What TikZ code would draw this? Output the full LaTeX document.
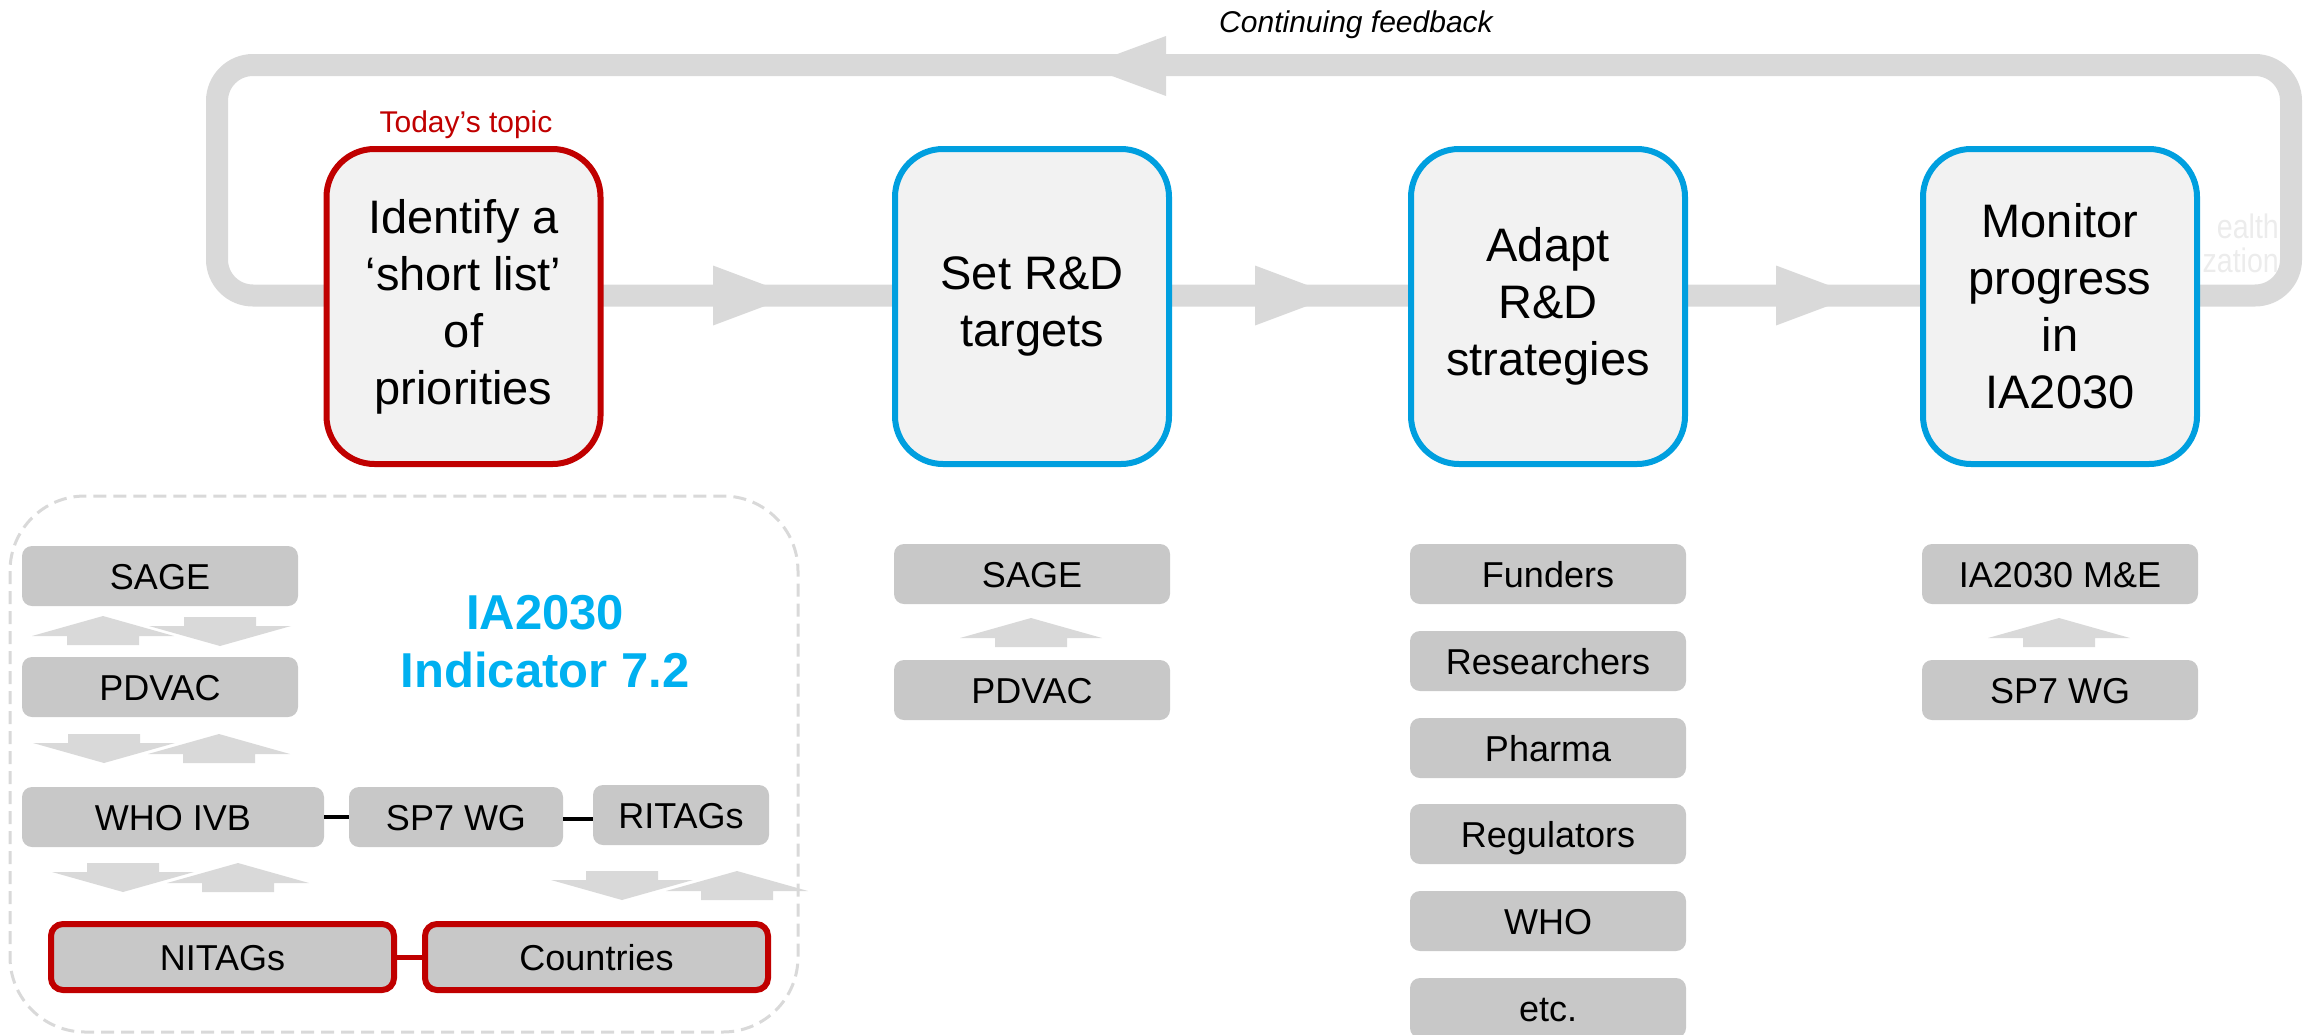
\documentclass[tikz,border=0pt]{standalone}
\usepackage{fontspec}
\setmainfont{Liberation Sans}
\usetikzlibrary{calc}
\definecolor{bandgray}{RGB}{217,217,217}
\definecolor{boxfill}{RGB}{242,242,242}
\definecolor{smallfill}{RGB}{200,200,200}
\definecolor{topicred}{RGB}{192,0,0}
\definecolor{stepblue}{RGB}{0,159,223}
\definecolor{indcyan}{RGB}{0,176,240}
\definecolor{dashgray}{RGB}{217,217,217}
\definecolor{ghost}{RGB}{236,236,236}
\tikzset{
  mainbox/.style={draw, line width=6pt, fill=boxfill, rounded corners=48pt,
    minimum width=274pt, minimum height=315pt, align=center, inner sep=0pt,
    font=\fontsize{47}{57}\selectfont},
  redbox/.style={mainbox, draw=topicred},
  bluebox/.style={mainbox, draw=stepblue},
  smallbox/.style={fill=smallfill, rounded corners=10pt, minimum height=60pt,
    inner sep=0pt, text height=26pt, text depth=0pt,
    font=\fontsize{36}{43}\selectfont},
  redsmall/.style={smallbox, draw=topicred, line width=6pt, minimum height=66pt,
    minimum width=343pt, rounded corners=12pt},
  uparr/.pic={\fill[bandgray] (0,0) -- (71,20) -- (36,20) -- (36,29) -- (-36,29) -- (-36,20) -- (-71,20) -- cycle;},
  downarr/.pic={\fill[bandgray] (0,0) -- (71,-20) -- (36,-20) -- (36,-29) -- (-36,-29) -- (-36,-20) -- (-71,-20) -- cycle;},
  bandhead/.style={fill=bandgray},
  joinline/.style={line width=4pt, black},
  redjoin/.style={line width=5pt, topicred},
  ghosttext/.style={font=\fontsize{34}{34}\selectfont, text=ghost, anchor=base east,
    inner sep=0pt, xscale=0.84}
}
\begin{document}
\begin{tikzpicture}[x=1pt,y=-1pt]
\useasboundingbox (0,0) rectangle (2305,1034);

% feedback loop band
\draw[bandgray, line width=22pt, rounded corners=36pt] (217,65) rectangle (2291,295.5);
% arrowheads on the loop
\fill[bandhead] (713,265.5) -- (793,295.5) -- (713,325.5) -- cycle;
\fill[bandhead] (1255,265.5) -- (1335,295.5) -- (1255,325.5) -- cycle;
\fill[bandhead] (1776,265.5) -- (1856,295.5) -- (1776,325.5) -- cycle;
\fill[bandhead] (1166,36) -- (1085,66) -- (1166,96) -- cycle;

\node[font=\fontsize{30}{36}\selectfont\itshape, anchor=base] (fb) at (1356,32) {Continuing feedback};

% faint leftover text to the right of the last box
\node[ghosttext] (gh1) at (2279,238) {ealth};
\node[ghosttext] (gh2) at (2279,272) {zation};

% main steps
\node[redbox] (s1) at (463.5,306.5) {Identify a\\‘short list’\\of\\priorities};
\node[bluebox] (s2) at (1032,306.5) {Set R\&D\\targets};
\node[bluebox] (s3) at (1548,306.5) {Adapt\\R\&D\\strategies};
\node[bluebox] (s4) at (2060,306.5) {Monitor\\progress\\in\\IA2030};

\node[font=\fontsize{30}{36}\selectfont, text=topicred, anchor=base] (topic) at (466,132) {Today’s topic};

% left panel
\draw[dashgray, line width=3pt, dash pattern=on 13pt off 7pt, rounded corners=75pt] (10,496) rectangle (798,1032);

\node[smallbox, minimum width=276pt] (sageL) at (160,576) {SAGE};
\node[smallbox, minimum width=276pt] (pdvacL) at (160,687) {PDVAC};
\node[smallbox, minimum width=302pt] (whoivb) at (173,817) {WHO IVB};
\node[smallbox, minimum width=214pt] (sp7L) at (456,817) {SP7 WG};
\node[smallbox, minimum width=176pt] (ritags) at (681,815) {RITAGs};
\node[redsmall] (nitags) at (222.5,957) {NITAGs};
\node[redsmall] (countries) at (596.5,957) {Countries};

\draw[joinline] (whoivb) -- (sp7L);
\draw[joinline] (sp7L.east |- 0,819) -- (ritags.west |- 0,819);
\draw[redjoin] (nitags) -- (countries);

\pic at (103,616) {uparr};
\pic at (220,646) {downarr};
\pic at (104,763) {downarr};
\pic at (219,734) {uparr};
\pic at (123,892) {downarr};
\pic at (238,863) {uparr};
\pic at (622,900) {downarr};
\pic at (737,871) {uparr};

\node[font=\fontsize{49}{58}\selectfont\bfseries, text=indcyan, align=center, inner sep=0pt] (ind) at (545,641.5) {IA2030\\Indicator 7.2};

% column 2
\node[smallbox, minimum width=276pt] (sageR) at (1032,574) {SAGE};
\node[smallbox, minimum width=276pt] (pdvacR) at (1032,690) {PDVAC};
\pic at (1031,618) {uparr};

% column 3
\node[smallbox, minimum width=276pt] (fund) at (1548,574) {Funders};
\node[smallbox, minimum width=276pt] (res) at (1548,661) {Researchers};
\node[smallbox, minimum width=276pt] (pharma) at (1548,748) {Pharma};
\node[smallbox, minimum width=276pt] (reg) at (1548,834) {Regulators};
\node[smallbox, minimum width=276pt] (who) at (1548,921) {WHO};
\node[smallbox, minimum width=276pt] (etc) at (1548,1008) {etc.};

% column 4
\node[smallbox, minimum width=276pt] (mne) at (2060,574) {IA2030 M\&E};
\node[smallbox, minimum width=276pt] (sp7R) at (2060,690) {SP7 WG};
\pic at (2059,618) {uparr};
\end{tikzpicture}
\end{document}
